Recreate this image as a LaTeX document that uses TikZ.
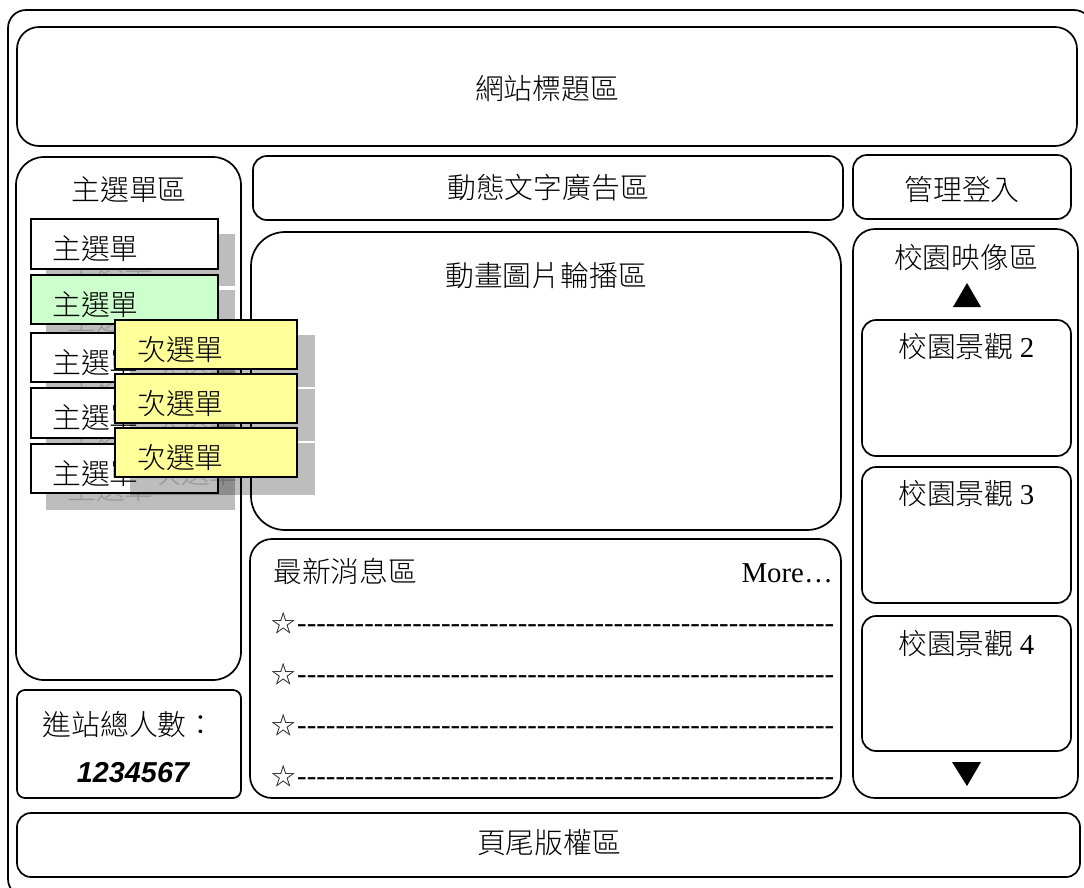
\documentclass[tikz,border=0pt]{standalone}
\usepackage{fontspec}
\newfontfamily\cjk[UprightFont=* Light]{Noto Sans CJK TC}
\newfontfamily\ltn{Liberation Serif}
\newfontfamily\arl[ItalicFont=* Bold Italic]{Liberation Sans}
\definecolor{menugreen}{RGB}{204,255,204}
\definecolor{subyellow}{RGB}{255,255,153}
\tikzset{
  panel/.style={draw=black,line width=1.7pt},
  menubox/.style={draw=black,line width=2.2pt,fill=white},
  shade/.style={fill=black,fill opacity=.26},
  label/.style={inner sep=0pt,text height=25.3pt,text depth=3.5pt,font=\fontsize{28.8}{30}\selectfont\cjk},
  ghost/.style={label,text=black,text opacity=.2},
}
\begin{document}
\begin{tikzpicture}[x=1pt,y=-1pt]
\useasboundingbox (0,0) rectangle (1084,887);
\fill[white] (0,0) rectangle (1084,887);
% panels
\draw[panel,rounded corners=18pt] (8,10) rectangle (1092,897);
\draw[panel,rounded corners=22pt] (17,27) rectangle (1077,146);
\draw[panel,rounded corners=28pt] (16,157) rectangle (241,680);
\draw[panel,rounded corners=14pt] (253,156) rectangle (843,220);
\draw[panel,rounded corners=14pt] (853,155) rectangle (1071,219);
\draw[panel,rounded corners=34pt] (251,232) rectangle (841,530);
\draw[panel,rounded corners=22pt] (853,229) rectangle (1078,798);
\draw[panel,rounded corners=14pt] (862,320) rectangle (1071,456);
\draw[panel,rounded corners=14pt] (862,467) rectangle (1071,603);
\draw[panel,rounded corners=14pt] (862,616) rectangle (1071,751);
\draw[panel,rounded corners=22pt] (250,539) rectangle (841,798);
\draw[panel,rounded corners=8pt] (17,690) rectangle (241,798);
\draw[panel,rounded corners=14pt] (17,813) rectangle (1080,877);
% panel labels
\node[label] (title) at (547,89) {網站標題區};
\node[label] (menuarea) at (129,190) {主選單區};
\node[label] (ad) at (548,188) {動態文字廣告區};
\node[label] (login) at (962,190) {管理登入};
\node[label] (photo) at (546,276) {動畫圖片輪播區};
\node[label] (campus) at (966,258) {校園映像區};
\node[label,anchor=west] (s2) at (898,347) {校園景觀 {\ltn 2}};
\node[label,anchor=west] (s3) at (898,494) {校園景觀 {\ltn 3}};
\node[label,anchor=west] (s4) at (898,644) {校園景觀 {\ltn 4}};
\node[label,anchor=west] (news) at (273,572) {最新消息區};
\node[label,anchor=east,font=\fontsize{28.8}{30}\selectfont\ltn] (more) at (833,572) {More…};
\node[label] (count) at (129,725) {進站總人數：};
\node[inner sep=0pt,font=\fontsize{28.8}{30}\selectfont\arl\itshape] (num) at (133,773) {1234567};
\node[label] (foot) at (549,843) {頁尾版權區};
% news rows
\foreach \y/\n in {623/a,674/b,725/c,776/d}{
  \node[inner sep=0pt,font=\fontsize{24.4}{26}\selectfont\cjk] (star\n) at (284,\y) {☆};
  \node[inner sep=0pt,anchor=west,font=\fontsize{28.8}{30}\selectfont\ltn] (dash\n) at (297,\y+6) {--------------------------------------------------------};
}
% triangles
\fill (967,283) -- (981,307) -- (953,307) -- cycle;
\fill (952,762) -- (981,762) -- (967,786) -- cycle;
% main menu shadows and boxes
\foreach \a/\b/\n in {219/269/a,275/324/b,333/382/c,388/438/d,444/493/e}{
  \fill[shade] (46,\a+15) rectangle (235,\b+17);
  \node[ghost,anchor=west] (mg\n) at (67,{(\a+\b)/2+20}) {主選單};
}
\foreach \a/\b/\n/\c in {219/269/a/white,275/324/b/menugreen,333/382/c/white,388/438/d/white,444/493/e/white}{
  \draw[menubox,fill=\c] (31,\a) rectangle (218,\b);
  \node[label,anchor=west] (m\n) at (52,{(\a+\b)/2+5}) {主選單};
}
% sub menu shadows and boxes
\foreach \a/\b/\n in {320/369/a,374/423/b,428/477/c}{
  \fill[shade] (130,\a+15) rectangle (315,\b+18);
  \node[ghost,anchor=west] (sg\n) at (152,{(\a+\b)/2+20}) {次選單};
}
\foreach \a/\b/\n in {320/369/a,374/423/b,428/477/c}{
  \draw[menubox,fill=subyellow] (115,\a) rectangle (297,\b);
  \node[label,anchor=west] (u\n) at (137,{(\a+\b)/2+5}) {次選單};
}
\end{tikzpicture}
\end{document}
